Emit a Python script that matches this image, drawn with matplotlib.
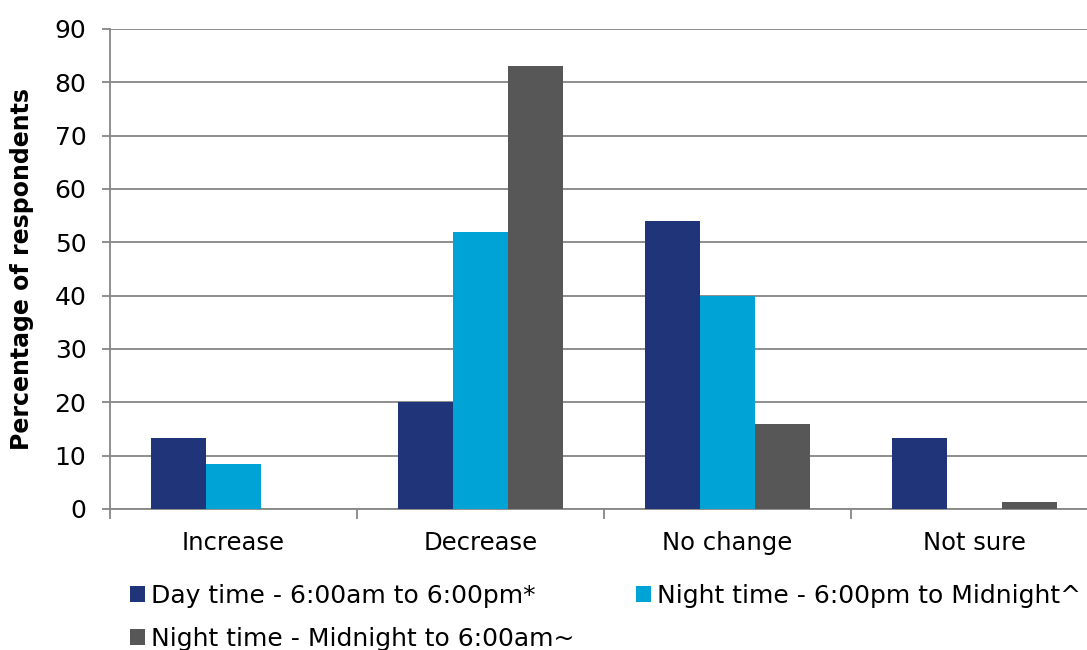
import matplotlib
matplotlib.use("Agg")
import matplotlib.pyplot as plt
import numpy as np
from matplotlib.patches import Patch

categories = ["Increase", "Decrease", "No change", "Not sure"]
series_names = [
    "Day time - 6:00am to 6:00pm*",
    "Night time - 6:00pm to Midnight^",
    "Night time - Midnight to 6:00am~",
]
day_time = [13.3, 20, 54, 13.3]
evening = [8.5, 52, 40, 0]
overnight = [0, 83, 16, 1.3]
colors = ["#1F3479", "#00A3D6", "#575757"]

plt.rcParams["font.family"] = ["DejaVu Sans"]

fig = plt.figure(figsize=(10.87, 6.5), dpi=100)
ax = fig.add_axes([110 / 1087, 141 / 650, 988 / 1087, 480 / 650])

x = np.arange(len(categories))
width = 0.222
for i, vals in enumerate([day_time, evening, overnight]):
    ax.bar(x + (i - 1) * width, vals, width, color=colors[i], zorder=3,
           label=series_names[i])

grid_c = "#868686"
ax.set_ylim(0, 90)
ax.set_yticks(range(0, 91, 10))
ax.set_xlim(-0.5, len(categories) - 0.5)
ax.yaxis.grid(True, color=grid_c, linewidth=1.3, zorder=0)
ax.set_axisbelow(True)

ax.set_xticks(x)
ax.set_xticklabels(categories, fontsize=17.5)
ax.tick_params(axis="x", length=0, pad=16)
ax.set_xticks(np.arange(-0.5, len(categories)), minor=True)
ax.tick_params(axis="x", which="minor", length=7, color=grid_c, width=1.3)
ax.tick_params(axis="y", labelsize=18, length=6, color=grid_c, width=1.3, pad=11)

for s in ["top", "right"]:
    ax.spines[s].set_visible(False)
for s in ["left", "bottom"]:
    ax.spines[s].set_color(grid_c)
    ax.spines[s].set_linewidth(1.3)

ax.set_ylabel("Percentage of respondents", fontsize=17, fontweight="bold",
              labelpad=15)

handles = [Patch(facecolor=c, edgecolor="none") for c in colors]
order = [0, 2, 1]
fig.legend([handles[i] for i in order], [series_names[i] for i in order],
           ncol=2, loc="upper left", bbox_to_anchor=(130 / 1087, 1 - 584 / 650),
           frameon=False, fontsize=18, handlelength=0.6, handleheight=0.6,
           handletextpad=0.25, columnspacing=2.45, labelspacing=0.75,
           borderaxespad=0, borderpad=0)

fig.savefig("out.png", dpi=100)
